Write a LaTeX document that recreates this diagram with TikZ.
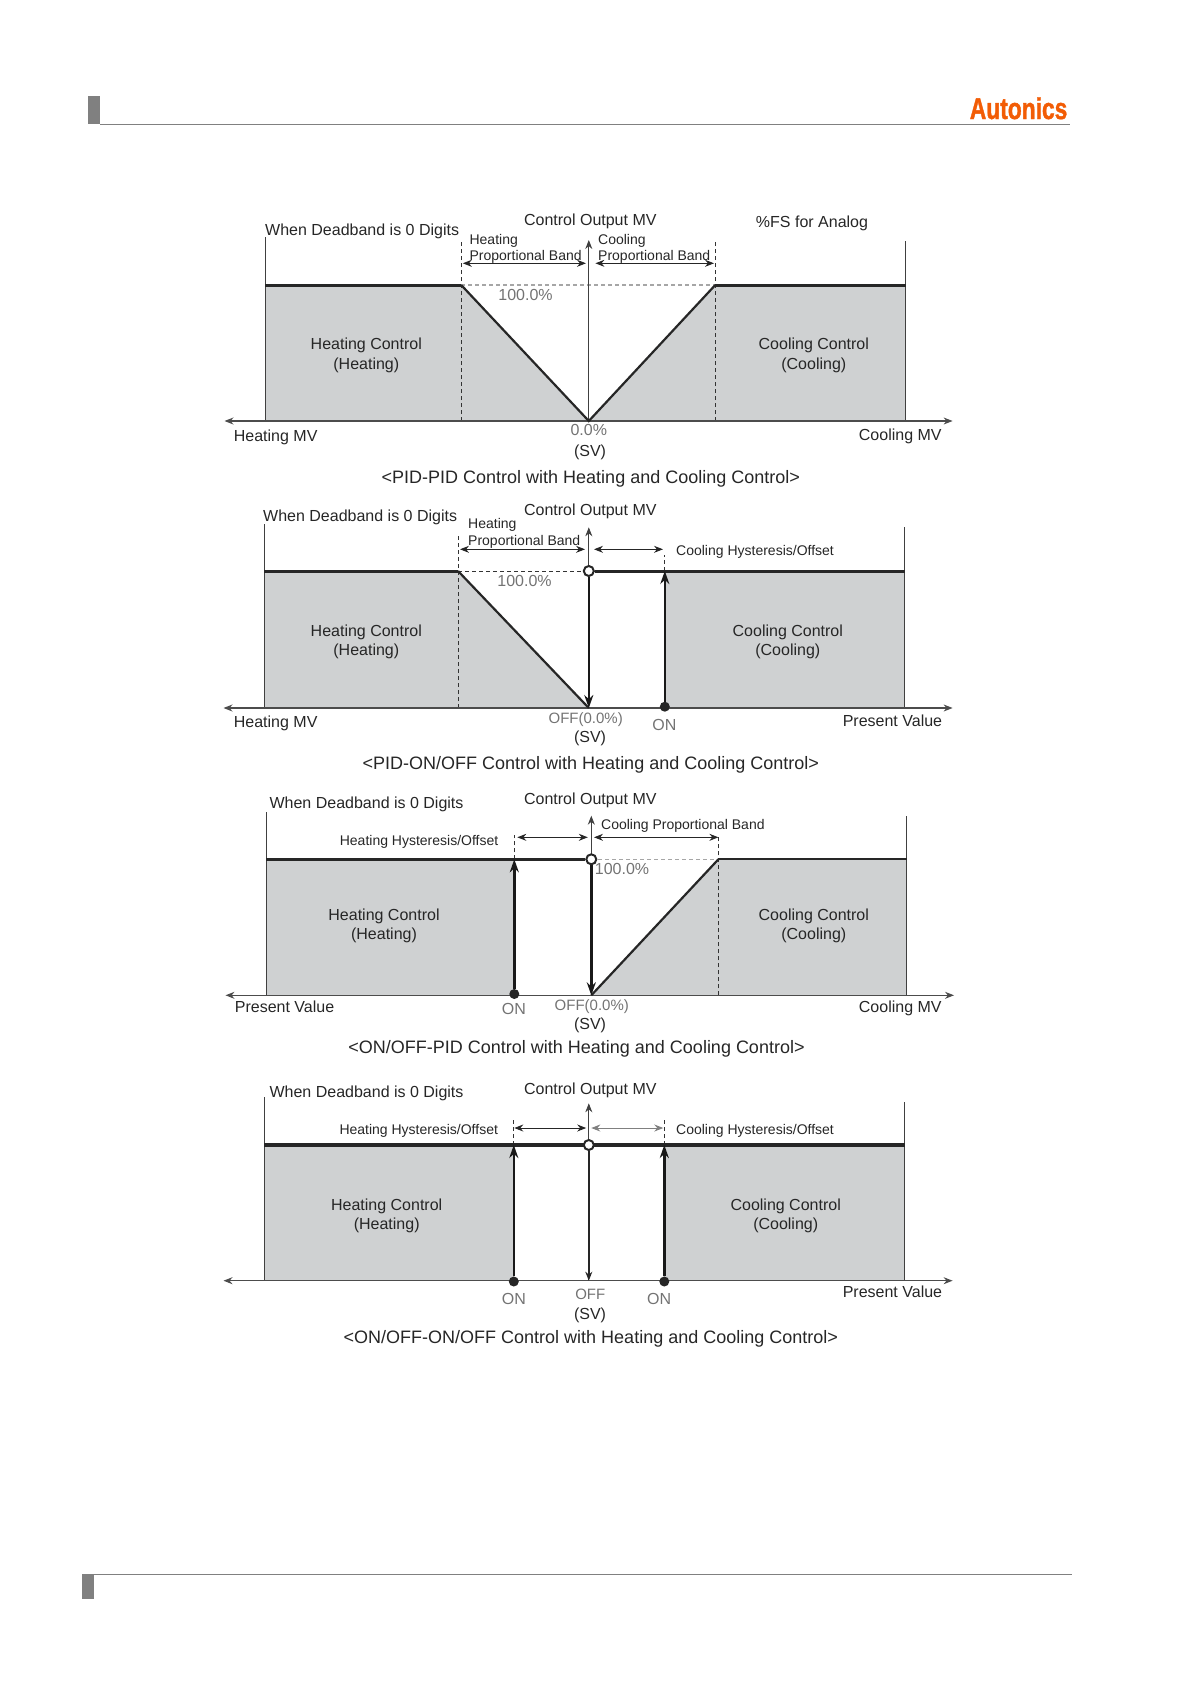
\documentclass[tikz,border=0pt]{standalone}
\usepackage{fontspec}
\usetikzlibrary{arrows.meta}
\setmainfont{Liberation Sans}
\newfontfamily\logofont[BoldFeatures={FakeBold=1.5}]{Liberation Sans}
\definecolor{panelgray}{HTML}{CFD1D2}
\definecolor{bargray}{HTML}{808080}
\definecolor{logoorange}{HTML}{F25C05}
\begin{document}
\begin{tikzpicture}[
        x=1pt, y=-1pt, >={Stealth[length=9pt,width=7pt]},
        every node/.style={inner sep=0pt, text height=11.5pt, text depth=0pt, text=black!85, font=\fontsize{16}{19}\selectfont},
        small/.style={font=\fontsize{14}{17}\selectfont, text height=10pt},
        title/.style={font=\fontsize{18}{21}\selectfont, text height=13pt},
        grayt/.style={text=black!55},
        zerot/.style={text=black!55, font=\fontsize{15}{18}\selectfont},
        shade/.style={fill=panelgray, draw=none},
        wall/.style={draw=black!75, line width=0.9pt},
        axis/.style={<->, draw=black!70, line width=1.1pt},
        level/.style={draw=black!85, line width=3pt},
        slope/.style={draw=black!85, line width=2.2pt},
        jump/.style={-{Stealth[length=13pt,width=9pt]}, draw=black!90, line width=2.6pt},
        guide/.style={dash pattern=on 4pt off 3pt, draw=black!80, line width=0.9pt},
        lguide/.style={dash pattern=on 4pt off 3pt, draw=black!35, line width=1.6pt},
        band/.style={<->, draw=black!85, line width=1pt},
        opend/.style={circle, text height=0pt, draw=black!85, fill=white, line width=2pt, minimum size=10pt},
        shut/.style={circle, text height=0pt, fill=black!85, minimum size=10pt},
    ]
    \useasboundingbox (0,0) rectangle (1191,1684);
    % page header and footer
    \fill[bargray] (87.7,96) rectangle (100,124.3);
    \fill[bargray] (82.3,1574) rectangle (93.8,1598.7);
    \coordinate (hl) at (100,124.3);
    \coordinate (hr) at (1069.5,124.3);
    \coordinate (fl) at (93.8,1574.3);
    \coordinate (fr) at (1071.5,1574.3);
    \draw[bargray, line width=1.1pt] (hl) -- (hr);
    \draw[bargray, line width=1.1pt] (fl) -- (fr);
    \node[anchor=east, xscale=.76, text height=22pt, font=\fontsize{30}{30}\logofont\bfseries, text=logoorange] (logo) at (1067.5,108) {Autonics};

    % PID-PID
    \coordinate (a0) at (265.3,421);
    \coordinate (a1) at (461.2,421);
    \coordinate (a2) at (588.8,421);
    \coordinate (a3) at (715.3,421);
    \coordinate (a4) at (905.6,421);
    \coordinate (b0) at (265.3,285);
    \coordinate (b1) at (461.2,285);
    \coordinate (b3) at (715.3,285);
    \coordinate (b4) at (905.6,285);
    \fill[shade] (a0) -- (b0) -- (b1) -- (a2) -- (b3) -- (b4) -- (a4) -- cycle;
    \coordinate (al) at (224.5,421);
    \coordinate (ar) at (952.6,421);
    \coordinate (t0) at (265.3,236.7);
    \coordinate (t1) at (461.2,241);
    \coordinate (t2) at (588.8,240);
    \coordinate (t3) at (715.3,240);
    \coordinate (t4) at (905.6,240.7);
    \draw[wall] (a0) -- (t0);
    \draw[wall] (a4) -- (t4);
    \draw[guide] (a1) -- (t1);
    \draw[guide] (a3) -- (t3);
    \draw[lguide] (b1) -- (b3);
    \draw[->, wall] (a2) -- (t2);
    \draw[axis] (al) -- (ar);
    \draw[level] (b0) -- (b1);
    \draw[level] (b3) -- (b4);
    \draw[slope] (b1) -- (a2) -- (b3);
    \coordinate (d0) at (462.8,263.3);
    \coordinate (d1) at (586,263.3);
    \coordinate (d2) at (595.4,263.3);
    \coordinate (d3) at (714,263.3);
    \draw[band] (d0) -- (d1);
    \draw[band] (d2) -- (d3);
    \node[anchor=west] (dead1) at (265,230) {When Deadband is 0 Digits};
    \node (mv1) at (590.3,220) {Control Output MV};
    \node (fs1) at (812,222) {\%FS for Analog};
    \node[small, anchor=west] (hb1) at (469.4,239) {Heating};
    \node[small, anchor=west] (hp1) at (469.4,255.3) {Proportional Band};
    \node[small, anchor=west] (cb1) at (598,239) {Cooling};
    \node[small, anchor=west] (cp1) at (598,255.3) {Proportional Band};
    \node[grayt] (max1) at (525.5,295) {100.0\%};
    \node (hc1) at (366.3,344) {Heating Control};
    \node (hh1) at (366.3,363.3) {(Heating)};
    \node (cc1) at (813.8,344) {Cooling Control};
    \node (ch1) at (813.8,363.3) {(Cooling)};
    \node[anchor=west] (lx1) at (233.7,436) {Heating MV};
    \node[anchor=east] (rx1) at (941.8,434.3) {Cooling MV};
    \node[grayt] (zero1) at (588.8,430) {0.0\%};
    \node (sv1) at (590,450.7) {(SV)};
    \node[title] (cap1) at (590.8,476.7) {<PID-PID Control with Heating and Cooling Control>};

    % PID-ON/OFF
    \coordinate (a0) at (264.3,708);
    \coordinate (a1) at (458,708);
    \coordinate (a2) at (588.8,708);
    \coordinate (a3) at (664.8,708);
    \coordinate (a4) at (904.6,708);
    \coordinate (b0) at (264.3,571);
    \coordinate (b1) at (458,571);
    \coordinate (b3) at (664.8,571);
    \coordinate (b4) at (904.6,571);
    \fill[shade] (a0) -- (b0) -- (b1) -- (a2) -- cycle;
    \fill[shade] (a3) -- (b3) -- (b4) -- (a4) -- cycle;
    \coordinate (al) at (223.5,708);
    \coordinate (ar) at (952.6,708);
    \coordinate (t0) at (264.3,524.3);
    \coordinate (t1) at (458,535);
    \coordinate (t2) at (588.8,527.3);
    \coordinate (t3) at (664.8,555);
    \coordinate (t4) at (904.6,527.3);
    \draw[wall] (a0) -- (t0);
    \draw[wall] (a4) -- (t4);
    \draw[guide] (a1) -- (t1);
    \draw[guide] (b3) -- (t3);
    \draw[guide] (b1) -- (b3);
    \draw[->, wall] (a2) -- (t2);
    \draw[axis] (al) -- (ar);
    \draw[level] (b0) -- (b1);
    \node[opend] (off2) at (588.8,571) {};
    \draw[level] (off2) -- (b4);
    \draw[slope] (b1) -- (a2);
    \draw[jump] (off2) -- (a2);
    \node[shut] (on2) at (664.8,706.7) {};
    \draw[jump] (on2) -- (b3);
    \coordinate (d0) at (460,549.3);
    \coordinate (d1) at (585,549.3);
    \coordinate (d2) at (594,549.3);
    \coordinate (d3) at (663,549.3);
    \draw[band] (d0) -- (d1);
    \draw[band] (d2) -- (d3);
    \node[anchor=west] (dead2) at (263,516) {When Deadband is 0 Digits};
    \node (mv2) at (590.3,510) {Control Output MV};
    \node[small, anchor=west] (hb2) at (468,523) {Heating};
    \node[small, anchor=west] (hp2) at (468,540) {Proportional Band};
    \node[small, anchor=west] (cy2) at (676,550) {Cooling Hysteresis/Offset};
    \node[grayt] (max2) at (524.5,581) {100.0\%};
    \node (hc2) at (366.3,630.7) {Heating Control};
    \node (hh2) at (366.3,649.3) {(Heating)};
    \node (cc2) at (787.8,630.7) {Cooling Control};
    \node (ch2) at (787.8,649.3) {(Cooling)};
    \node[anchor=west] (lx2) at (233.7,722) {Heating MV};
    \node[anchor=east] (rx2) at (942.3,720.7) {Present Value};
    \node[zerot] (zero2) at (585.7,717.3) {OFF(0.0\%)};
    \node[grayt] (ont2) at (664.3,724.3) {ON};
    \node (sv2) at (590,736.7) {(SV)};
    \node[title] (cap2) at (590.8,763.3) {<PID-ON/OFF Control with Heating and Cooling Control>};

    % ON/OFF-PID
    \coordinate (a0) at (266.3,995.3);
    \coordinate (a1) at (514.3,995.3);
    \coordinate (a2) at (591.3,995.3);
    \coordinate (a3) at (718.4,995.3);
    \coordinate (a4) at (906.6,995.3);
    \coordinate (b0) at (266.3,859.3);
    \coordinate (b1) at (514.3,859.3);
    \coordinate (b3) at (718.4,859.3);
    \coordinate (b4) at (906.6,859.3);
    \fill[shade] (a0) -- (b0) -- (b1) -- (a1) -- cycle;
    \fill[shade] (a2) -- (b3) -- (b4) -- (a4) -- cycle;
    \coordinate (al) at (225.5,995.3);
    \coordinate (ar) at (954,995.3);
    \coordinate (t0) at (266.3,811.7);
    \coordinate (t1) at (514.3,835);
    \coordinate (t2) at (591.3,815.7);
    \coordinate (t3) at (718.4,836.7);
    \coordinate (t4) at (906.6,815.7);
    \draw[wall] (a0) -- (t0);
    \draw[wall] (a4) -- (t4);
    \draw[guide] (b1) -- (t1);
    \draw[guide] (a3) -- (t3);
    \draw[lguide] (b1) -- (b3);
    \draw[->, wall] (a2) -- (t2);
    \draw[axis] (al) -- (ar);
    \node[opend] (off3) at (591.3,859.3) {};
    \draw[level] (b0) -- (off3);
    \draw[level, line width=2pt] (b3) -- (b4);
    \draw[slope] (a2) -- (b3);
    \draw[jump] (off3) -- (a2);
    \node[shut] (on3) at (514.3,994) {};
    \draw[jump] (on3) -- (b1);
    \coordinate (d0) at (517.3,837.3);
    \coordinate (d1) at (587.8,837.3);
    \coordinate (d2) at (594,837.3);
    \coordinate (d3) at (718.4,837.3);
    \draw[band] (d0) -- (d1);
    \draw[band] (d2) -- (d3);
    \node[anchor=west] (dead3) at (269.4,802.7) {When Deadband is 0 Digits};
    \node (mv3) at (590.3,799) {Control Output MV};
    \node[small, anchor=west] (cp3) at (601,824.3) {Cooling Proportional Band};
    \node[small, anchor=east] (hy3) at (498.5,840.3) {Heating Hysteresis/Offset};
    \node[grayt] (max3) at (622,869) {100.0\%};
    \node (hc3) at (384,915) {Heating Control};
    \node (hh3) at (384,934) {(Heating)};
    \node (cc3) at (813.8,915) {Cooling Control};
    \node (ch3) at (813.8,934) {(Cooling)};
    \node[anchor=west] (lx3) at (234.7,1007) {Present Value};
    \node[anchor=east] (rx3) at (941.8,1007) {Cooling MV};
    \node[grayt] (ont3) at (513.8,1008.7) {ON};
    \node[zerot] (zero3) at (591.8,1005) {OFF(0.0\%)};
    \node (sv3) at (590,1023.3) {(SV)};
    \node[title] (cap3) at (576.5,1047.3) {<ON/OFF-PID Control with Heating and Cooling Control>};

    % ON/OFF-ON/OFF
    \coordinate (a0) at (264.3,1280.7);
    \coordinate (a1) at (513.8,1280.7);
    \coordinate (a2) at (588.8,1280.7);
    \coordinate (a3) at (664.3,1280.7);
    \coordinate (a4) at (904.6,1280.7);
    \coordinate (b0) at (264.3,1145);
    \coordinate (b1) at (513.8,1145);
    \coordinate (b3) at (664.3,1145);
    \coordinate (b4) at (904.6,1145);
    \fill[shade] (a0) -- (b0) -- (b1) -- (a1) -- cycle;
    \fill[shade] (a3) -- (b3) -- (b4) -- (a4) -- cycle;
    \coordinate (al) at (223.5,1280.7);
    \coordinate (ar) at (952.6,1280.7);
    \coordinate (t0) at (264.3,1097.3);
    \coordinate (t1) at (513.8,1120);
    \coordinate (t2) at (588.8,1103.3);
    \coordinate (t3) at (664.3,1120);
    \coordinate (t4) at (904.6,1101.7);
    \draw[wall] (a0) -- (t0);
    \draw[wall] (a4) -- (t4);
    \draw[guide] (b1) -- (t1);
    \draw[guide] (b3) -- (t3);
    \draw[->, wall] (a2) -- (t2);
    \draw[axis] (al) -- (ar);
    \draw[level, line width=3.6pt] (b0) -- (b4);
    \node[opend] (off4) at (588.8,1145) {};
    \draw[->, draw=black!85, line width=1.5pt] (off4) -- (a2);
    \node[shut] (on4a) at (513.8,1281.5) {};
    \node[shut] (on4b) at (664.3,1281.5) {};
    \draw[jump] (on4a) -- (b1);
    \draw[jump] (on4b) -- (b3);
    \coordinate (d0) at (514.3,1128);
    \coordinate (d1) at (586.2,1128);
    \coordinate (d2) at (591.3,1128);
    \coordinate (d3) at (663.3,1128);
    \draw[band] (d0) -- (d1);
    \draw[band, draw=black!50] (d2) -- (d3);
    \node[anchor=west] (dead4) at (269.4,1092) {When Deadband is 0 Digits};
    \node (mv4) at (590.3,1088.3) {Control Output MV};
    \node[small, anchor=west] (hy4) at (339.3,1129) {Heating Hysteresis/Offset};
    \node[small, anchor=west] (cy4) at (676,1129) {Cooling Hysteresis/Offset};
    \node (hc4) at (386.7,1204.3) {Heating Control};
    \node (hh4) at (386.7,1223.3) {(Heating)};
    \node (cc4) at (785.7,1204.3) {Cooling Control};
    \node (ch4) at (785.7,1223.3) {(Cooling)};
    \node[anchor=east] (rx4) at (942.3,1292) {Present Value};
    \node[grayt] (ont4a) at (513.8,1298.3) {ON};
    \node[zerot] (off4t) at (590.3,1294) {OFF};
    \node[grayt] (ont4b) at (659.2,1298.3) {ON};
    \node (sv4) at (590,1313.3) {(SV)};
    \node[title] (cap4) at (590.8,1337.3) {<ON/OFF-ON/OFF Control with Heating and Cooling Control>};
\end{tikzpicture}
\end{document}
